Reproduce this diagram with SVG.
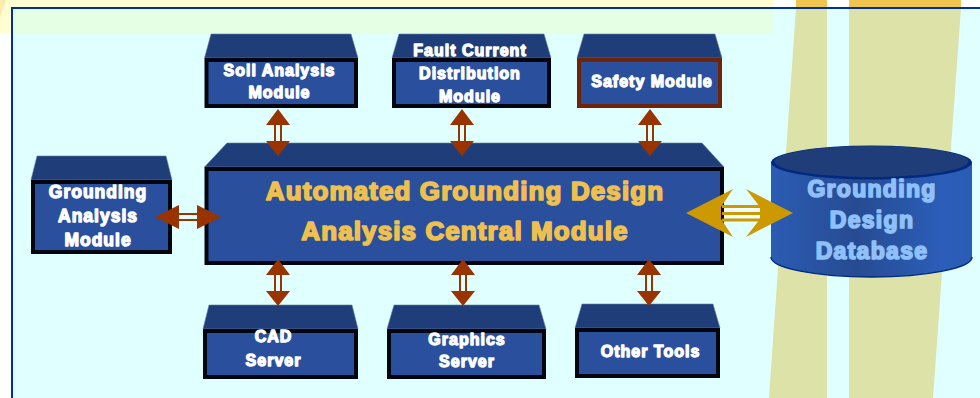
<svg xmlns="http://www.w3.org/2000/svg" width="980" height="398" viewBox="0 0 980 398">
<style>
.top{fill:#1f3d78;stroke:#5f7f9f;stroke-width:.6}
.face{fill:#2a4f9c;stroke:#000510;stroke-width:4}
.t{font-family:"Liberation Sans",Arial,sans-serif;font-weight:700;text-anchor:middle;fill:#fff;stroke:#fff;stroke-width:1.300;font-size:16px;letter-spacing:1px;stroke-linejoin:round}
.b{font-size:17.500px}
.c{font-size:26px;fill:#eec050;stroke:#eec050;letter-spacing:1.100px;stroke-width:1.700}
.d{font-size:23px;fill:#8fc0fa;stroke:#8fc0fa;letter-spacing:1.300px;stroke-width:1.700}
.ah{fill:#993300}
.as{fill:none;stroke:#993300;stroke-width:2}
</style>
<defs>
<linearGradient id="cyl" x1="0" x2="1" y1="0" y2="0">
<stop offset="0" stop-color="#2b5cb4"/><stop offset=".42" stop-color="#274b91"/><stop offset=".85" stop-color="#2b5eb9"/><stop offset="1" stop-color="#2b5cb4"/>
</linearGradient>
</defs>
<rect width="980" height="398" fill="#fff"/>
<rect x="0" y="0" width="773" height="33" fill="#ffffd2"/>
<polygon points="0,18 6,0 0,0" fill="#ffedb0"/>
<rect x="12" y="8" width="968" height="390" fill="#e0ffff"/>
<rect x="12" y="8" width="761" height="25" fill="#e4ffe4"/>
<polygon points="796,0 827,0 827,8 796,8" fill="#f0c450"/>
<polygon points="849,0 961,0 961,8 849,8" fill="#f0c450"/>
<polygon points="796,8 827,8 827,398 769,398" fill="#dde2a8"/>
<polygon points="849,8 961,8 933,398 849,398" fill="#dde2a8"/>
<path d="M12 398V8H980" fill="none" stroke="#00309c" stroke-width="2"/>

<g id="soil"><polygon class="top" points="204.500,58 211,34 351,34 358,58"/><rect class="face" x="206.500" y="60" width="149.500" height="46"/><text class="t" x="279.500" y="75.500">Soil Analysis</text><text class="t" x="279.500" y="98">Module</text></g>
<g id="fault"><polygon class="top" points="392,58 399,34 544,34 551,58"/><rect class="face" x="394" y="60" width="155" height="46"/><text class="t" x="470" y="56">Fault Current</text><text class="t" x="470" y="79">Distribution</text><text class="t" x="470" y="102">Module</text></g>
<g id="safety"><polygon class="top" points="577,58 584,34 715,34 722,58"/><rect class="face" style="stroke:#6e2408" x="579" y="60" width="141" height="46"/><text class="t" x="652" y="87">Safety Module</text></g>
<g id="central"><polygon class="top" points="204.500,167 227,143 702,143 724,167"/><rect class="face" x="206.500" y="169" width="515.500" height="94"/><text class="t c" x="465" y="199.500">Automated Grounding Design</text><text class="t c" x="465" y="239.500">Analysis Central Module</text></g>
<g id="analysis"><polygon class="top" points="31,180 37,156 166,156 172,180"/><rect class="face" x="33" y="182" width="137" height="70"/><text class="t b" x="98" y="198">Grounding</text><text class="t b" x="98" y="222">Analysis</text><text class="t b" x="98" y="246">Module</text></g>
<g id="cad"><polygon class="top" points="203,329 209,305 352,305 358,329"/><rect class="face" x="205" y="331" width="151" height="46"/><text class="t" x="273.500" y="342">CAD</text><text class="t" x="273.500" y="366">Server</text></g>
<g id="graphics"><polygon class="top" points="387,329 394,305 539,305 546,329"/><rect class="face" x="389" y="331" width="155" height="46"/><text class="t" x="467" y="345">Graphics</text><text class="t" x="467" y="367">Server</text></g>
<g id="other"><polygon class="top" points="575,328 582,304 713,304 720,328"/><rect class="face" x="577" y="330" width="141" height="46"/><text class="t" x="650.500" y="357">Other Tools</text></g>
<g id="database">
<path d="M771 162V257C771 268 816 277 871.500 277S972 268 972 257V162Z" fill="url(#cyl)"/>
<path d="M771 257C771 268 816 277 871.500 277S972 268 972 257" fill="none" stroke="#002a80" stroke-width="1.500"/>
<ellipse cx="871.500" cy="162.500" rx="100.500" ry="17" fill="#002a80"/>
<ellipse cx="871.500" cy="161.500" rx="97" ry="15.500" fill="#1f3d78"/>
<text class="t d" x="872" y="197">Grounding</text><text class="t d" x="872" y="228">Design</text><text class="t d" x="872" y="259">Database</text>
</g>
<g id="connectors">
<path class="as" d="M275 125V141M281 125V141M459 125V141M465 125V141M647 125V141M653 125V141"/>
<path class="ah" d="M278 109L290 125H266ZM278 156L290 141H266ZM462 109L474 125H450ZM462 156L474 141H450ZM650 109L662 125H638ZM650 156L662 141H638Z"/>
<path class="as" d="M275 275V291M281 275V291M460 275V291M466 275V291M646 275V291M652 275V291"/>
<path class="ah" d="M278 259L290 275H266ZM278 306L290 291H266ZM463 259L475 275H451ZM463 306L475 291H451ZM649 259L661 275H637ZM649 306L661 291H637Z"/>
<path class="as" d="M179 214H197M179 220H197"/>
<path class="ah" d="M155 217L179 205V229ZM221 217L197 205V229Z"/>
<path d="M724 208H760M724 215H760" stroke="#fff" stroke-width="3.500" fill="none"/>
<path d="M720 208.500H724M720 215.500H724" stroke="#000" stroke-width="3" fill="none"/>
<path d="M722 206.500H760M722 213.500H760M722 220H760" stroke="#cc9900" stroke-width="3" fill="none"/>
<path fill="#cc9900" d="M686 213L733 189L721 207V219L733 237ZM793 213L746 189L760 207V219L746 237Z"/>
</g>
</svg>
